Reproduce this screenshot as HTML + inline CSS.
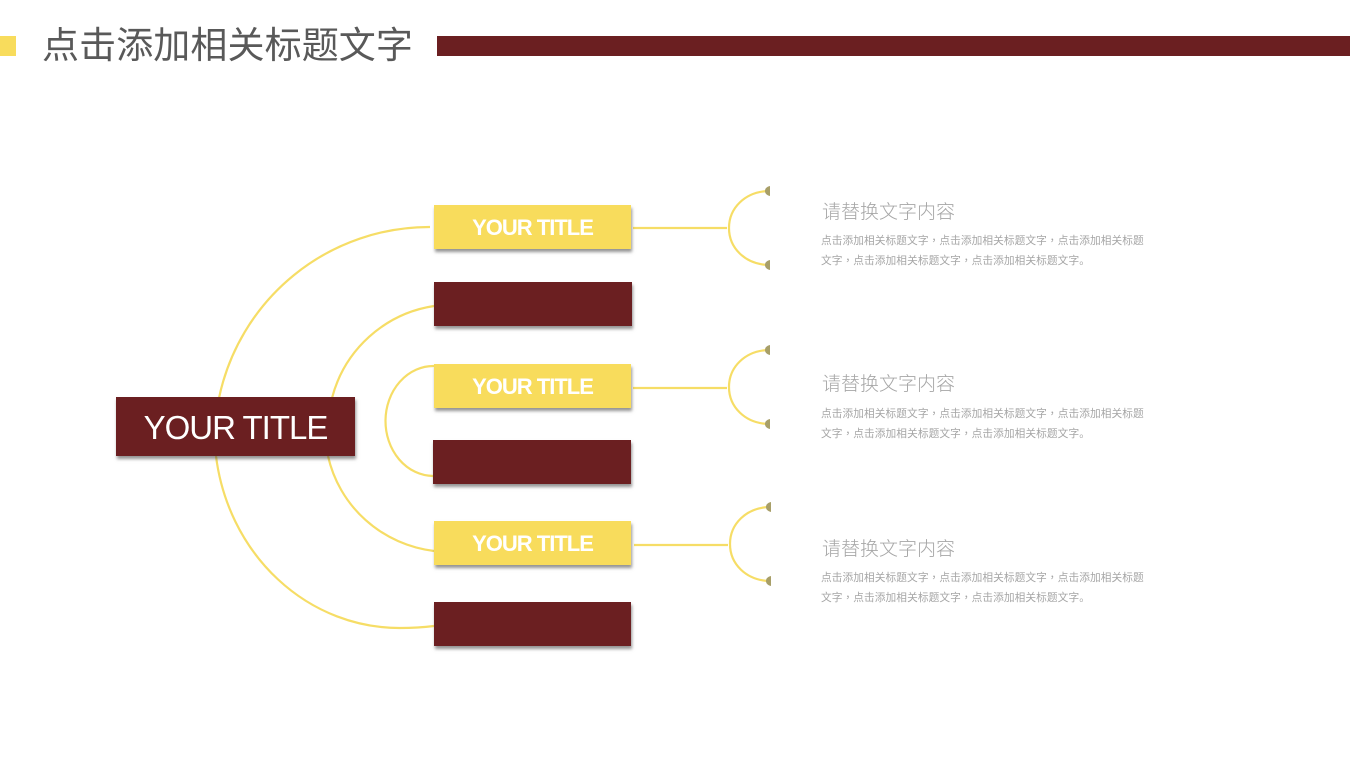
<!DOCTYPE html>
<html><head><meta charset="utf-8">
<style>
html,body{margin:0;padding:0;background:#fff;}
#p{position:relative;width:1350px;height:759px;overflow:hidden;background:#fff;font-family:"Liberation Sans","Noto Sans CJK SC",sans-serif;}
.b{position:absolute;box-shadow:1px 3px 3px rgba(60,60,60,.55);}
.y{background:#f8dc5c;color:#fff;font-weight:bold;font-size:22px;line-height:45px;text-align:center;letter-spacing:-1px;}
.r{background:#6b1f21;}
.t{position:absolute;white-space:nowrap;}
.h{font-size:19px;color:#a6a6a6;left:822px;line-height:26px;font-weight:300;}
.d{font-size:10.7px;color:#a6a6a6;left:821px;line-height:20px;width:340px;white-space:nowrap;letter-spacing:.07px;}
.d i{font-style:normal;font-family:"Noto Sans CJK TC",sans-serif;}
svg{position:absolute;left:0;top:0;}
</style></head><body><div id="p">
<div style="position:absolute;left:0;top:36px;width:16px;height:20px;background:#f8dc5c"></div>
<div style="position:absolute;left:437px;top:36px;width:913px;height:20px;background:#6b1f21"></div>
<div class="t" style="left:42px;top:22px;font-size:37px;line-height:48px;color:#595959;letter-spacing:.1px;">点击添加相关标题文字</div>
<svg width="1350" height="759" fill="none" stroke="#f6dd66" stroke-width="2.2">
<path d="M430 227 A215 215 0 0 0 219 398"/>
<path d="M434 306 A125 125 0 0 0 332 398"/>
<path d="M434 366 A48 55 0 0 0 433 476"/>
<path d="M216 456 A185 198 0 0 0 400 628 Q418 628 434 626"/>
<path d="M328 456 A124 122 0 0 0 434 551"/>
<path d="M633 228H727M768 191C745 192 729 208 729 228C729 248 745 264 768 265"/>
<path d="M633 388H727M768 350C745 351 729 367 729 387C729 407 745 423 768 424"/>
<path d="M634 545H728M769 507C746 508 730 524 730 544C730 564 746 580 769 581"/>
<g fill="#a89f68" stroke="none">
<path d="M770 186C766 187 765 189 765 191C765 193 766 195 770 196Z"/>
<path d="M770 260C766 261 765 263 765 265C765 267 766 269 770 270Z"/>
<path d="M770 345C766 346 765 348 765 350C765 352 766 354 770 355Z"/>
<path d="M770 419C766 420 765 422 765 424C765 426 766 428 770 429Z"/>
<path d="M771 502C767 503 766 505 766 507C766 509 767 511 771 512Z"/>
<path d="M771 576C767 577 766 579 766 581C766 583 767 585 771 586Z"/>
</g>
</svg>
<div class="b r" style="left:116px;top:397px;width:239px;height:59px;color:#fff;font-size:33px;line-height:61px;text-align:center;letter-spacing:-1px;">YOUR TITLE</div>
<div class="b y" style="left:434px;top:205px;width:197px;height:44px;">YOUR TITLE</div>
<div class="b r" style="left:434px;top:282px;width:198px;height:44px;"></div>
<div class="b y" style="left:434px;top:364px;width:197px;height:44px;">YOUR TITLE</div>
<div class="b r" style="left:433px;top:440px;width:198px;height:44px;"></div>
<div class="b y" style="left:434px;top:521px;width:197px;height:44px;">YOUR TITLE</div>
<div class="b r" style="left:434px;top:602px;width:197px;height:44px;"></div>
<div class="t h" style="top:200px;">请替换文字内容</div>
<div class="t d" style="top:231px;">点击添加相关标题文字<i>，</i>点击添加相关标题文字<i>，</i>点击添加相关标题<br>文字<i>，</i>点击添加相关标题文字<i>，</i>点击添加相关标题文字。</div>
<div class="t h" style="top:372px;">请替换文字内容</div>
<div class="t d" style="top:404px;">点击添加相关标题文字<i>，</i>点击添加相关标题文字<i>，</i>点击添加相关标题<br>文字<i>，</i>点击添加相关标题文字<i>，</i>点击添加相关标题文字。</div>
<div class="t h" style="top:537px;">请替换文字内容</div>
<div class="t d" style="top:568px;">点击添加相关标题文字<i>，</i>点击添加相关标题文字<i>，</i>点击添加相关标题<br>文字<i>，</i>点击添加相关标题文字<i>，</i>点击添加相关标题文字。</div>
</div></body></html>
